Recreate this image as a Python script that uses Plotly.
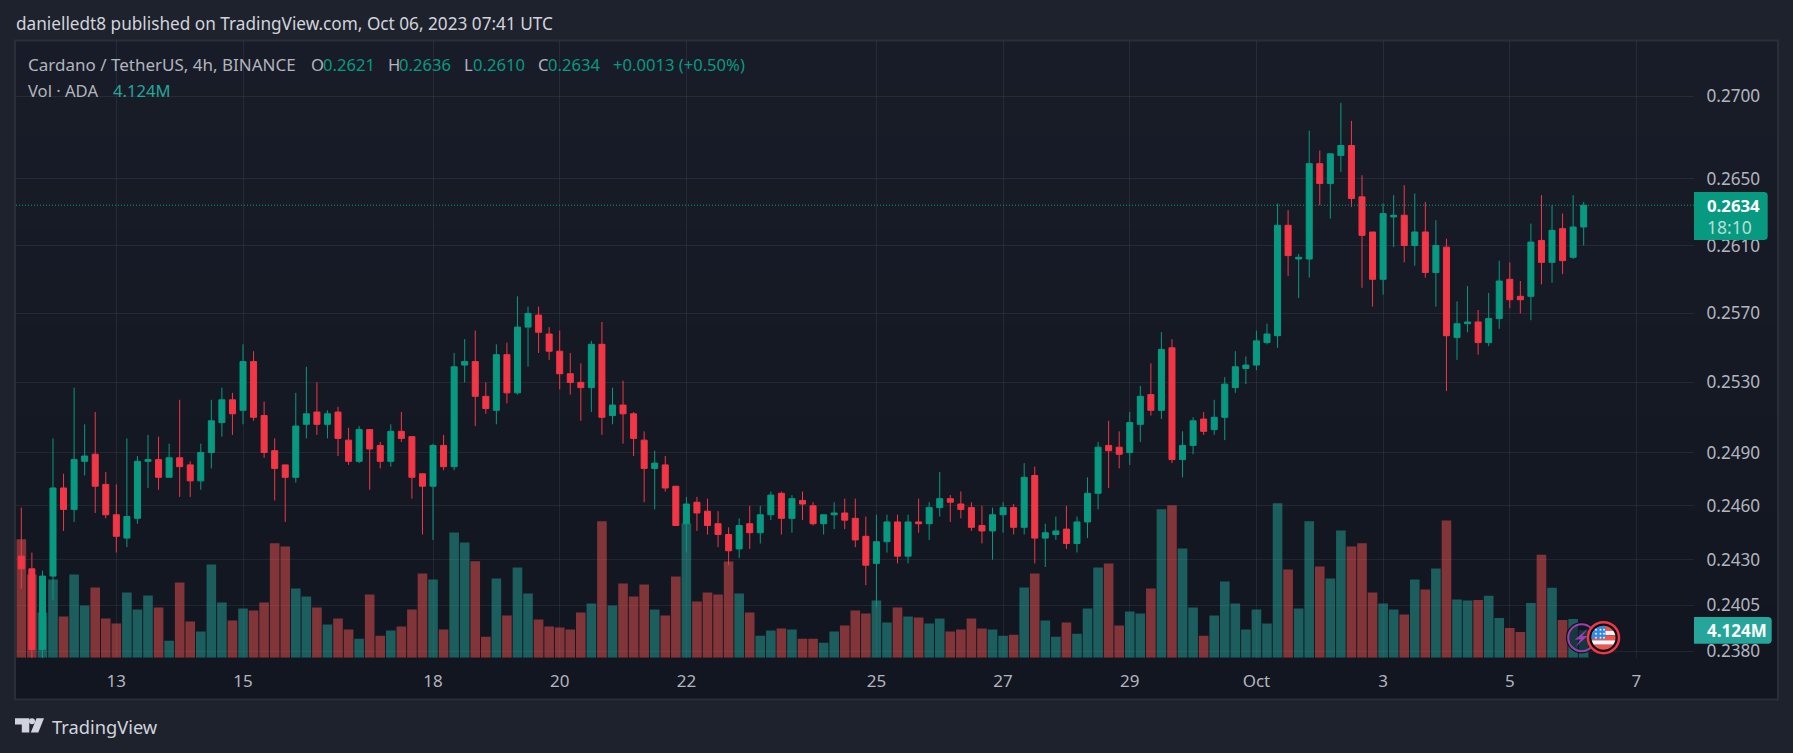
import math
import pandas as pd
import plotly.graph_objects as go

W, H = 1793, 753
FONT = "Noto Sans"

directions = ("RRGGRGGRRR" "GGGRGRRGGG" "RGRRRRGGRG" "RRGRRGRRRG" "RGGRRGRGGR"
              "RRRRGRGRRR" "GRRGRRRRGR" "GGRGRRGGRR" "RGGRGRGGRR" "RRGGRGRGGR"
              "GGGRRGGRGR" "GGRGGGGGGG" "RGGRGGRRRG" "GRGRGRGGRG" "GRRGRGRGG")

highs = [.2459,.2434,.2424,.2498,.2478,.2527,.2506,.2513,.2479,.2472,
         .2498,.2488,.2500,.2499,.2495,.2520,.2485,.2495,.2520,.2527,
         .2524,.2552,.2548,.2519,.2498,.2483,.2524,.2539,.2530,.2514,
         .2516,.2504,.2505,.2503,.2496,.2506,.2513,.2499,.2478,.2495,
         .2500,.2547,.2555,.2560,.2530,.2552,.2553,.2580,.2574,.2574,
         .2562,.2560,.2547,.2541,.2554,.2565,.2527,.2531,.2513,.2502,
         .2491,.2488,.2471,.2465,.2465,.2464,.2457,.2448,.2453,.2460,
         .2460,.2468,.2468,.2466,.2468,.2462,.2455,.2462,.2464,.2464,
         .2454,.2455,.2455,.2455,.2455,.2464,.2462,.2479,.2466,.2468,
         .2462,.2460,.2459,.2462,.2461,.2484,.2482,.2450,.2454,.2460,
         .2454,.2476,.2496,.2508,.2502,.2513,.2528,.2541,.2559,.2555,
         .2502,.2510,.2513,.2520,.2533,.2548,.2545,.2560,.2564,.2635,
         .2631,.2605,.2679,.2667,.2665,.2696,.2685,.2652,.2618,.2635,
         .2640,.2646,.2641,.2636,.2625,.2614,.2577,.2586,.2572,.2582,
         .2601,.2600,.2589,.2623,.2640,.2634,.2629,.2640,.2636]

body_tops = [.2432,.2425,.2421,.2470,.2470,.2486,.2488,.2489,.2472,.2455,
             .2454,.2485,.2486,.2486,.2487,.2487,.2483,.2490,.2508,.2520,
             .2520,.2542,.2542,.2511,.2491,.2483,.2505,.2512,.2513,.2512,
             .2513,.2497,.2503,.2503,.2494,.2502,.2502,.2499,.2478,.2494,
             .2494,.2539,.2542,.2542,.2522,.2546,.2546,.2562,.2570,.2569,
             .2558,.2548,.2535,.2530,.2552,.2552,.2517,.2517,.2512,.2497,
             .2484,.2483,.2471,.2461,.2462,.2457,.2450,.2444,.2449,.2450,
             .2455,.2466,.2467,.2464,.2463,.2460,.2455,.2456,.2456,.2453,
             .2443,.2440,.2451,.2451,.2451,.2451,.2459,.2464,.2464,.2461,
             .2459,.2449,.2455,.2459,.2459,.2476,.2477,.2445,.2446,.2447,
             .2451,.2467,.2493,.2494,.2493,.2507,.2522,.2523,.2549,.2550,
             .2494,.2508,.2509,.2510,.2529,.2539,.2540,.2554,.2558,.2622,
             .2622,.2603,.2659,.2659,.2665,.2670,.2670,.2639,.2618,.2629,
             .2628,.2628,.2618,.2618,.2610,.2609,.2564,.2565,.2565,.2567,
             .2589,.2590,.2580,.2612,.2613,.2619,.2620,.2621,.2634]

body_bottoms = [.2425,.2381,.2381,.2421,.2458,.2458,.2485,.2471,.2455,.2443,
                .2442,.2453,.2485,.2476,.2476,.2482,.2474,.2474,.2490,.2507,
                .2512,.2514,.2510,.2490,.2481,.2476,.2476,.2506,.2506,.2506,
                .2498,.2485,.2485,.2492,.2485,.2485,.2498,.2476,.2471,.2471,
                .2482,.2482,.2540,.2522,.2515,.2514,.2524,.2524,.2562,.2559,
                .2548,.2535,.2530,.2527,.2527,.2510,.2511,.2512,.2498,.2481,
                .2481,.2470,.2449,.2450,.2456,.2449,.2444,.2435,.2436,.2445,
                .2445,.2455,.2453,.2453,.2461,.2450,.2450,.2455,.2452,.2441,
                .2427,.2428,.2440,.2432,.2432,.2450,.2450,.2459,.2462,.2458,
                .2448,.2446,.2446,.2455,.2448,.2448,.2442,.2442,.2444,.2439,
                .2439,.2451,.2467,.2491,.2489,.2490,.2506,.2514,.2514,.2486,
                .2486,.2494,.2502,.2503,.2510,.2527,.2538,.2540,.2553,.2557,
                .2604,.2602,.2602,.2647,.2647,.2664,.2638,.2616,.2590,.2590,
                .2627,.2610,.2610,.2594,.2594,.2557,.2556,.2564,.2553,.2553,
                .2567,.2578,.2578,.2580,.2600,.2600,.2601,.2603,.2621]

lows = [.2414,.2376,.2376,.2408,.2446,.2451,.2477,.2456,.2453,.2434,
        .2437,.2450,.2470,.2469,.2476,.2465,.2465,.2469,.2481,.2499,
        .2500,.2506,.2508,.2487,.2463,.2451,.2473,.2498,.2500,.2498,
        .2488,.2483,.2484,.2469,.2481,.2482,.2496,.2464,.2444,.2441,
        .2480,.2480,.2530,.2505,.2512,.2506,.2518,.2523,.2539,.2547,
        .2543,.2526,.2523,.2508,.2513,.2500,.2506,.2495,.2488,.2462,
        .2458,.2468,.2449,.2434,.2446,.2444,.2437,.2427,.2431,.2436,
        .2439,.2452,.2444,.2445,.2452,.2449,.2444,.2447,.2447,.2437,
        .2416,.2404,.2434,.2428,.2428,.2445,.2441,.2454,.2451,.2453,
        .2446,.2439,.2430,.2445,.2444,.2444,.2428,.2426,.2441,.2436,
        .2434,.2442,.2458,.2470,.2481,.2483,.2496,.2511,.2509,.2484,
        .2476,.2489,.2500,.2500,.2497,.2524,.2529,.2537,.2552,.2550,
        .2592,.2579,.2591,.2634,.2626,.2654,.2633,.2585,.2574,.2581,
        .2609,.2600,.2598,.2591,.2574,.2525,.2543,.2559,.2546,.2551,
        .2561,.2573,.2570,.2566,.2587,.2588,.2593,.2602,.2610]

volumes_m = [17.8,12.5,6.78,11.75,6.17,12.5,7.83,10.54,5.87,5.12,
             9.79,7.23,9.34,7.53,2.56,11.3,5.42,3.92,14.0,8.28,
             5.57,7.38,7.08,8.28,17.2,16.7,10.4,9.19,7.53,4.97,
             5.87,4.22,2.86,9.49,3.31,4.07,4.67,7.23,12.65,11.75,
             4.22,18.8,17.3,14.5,3.16,11.9,6.33,13.55,9.64,5.72,
             4.67,4.52,4.22,6.78,8.13,20.5,7.83,11.14,9.19,11.0,
             7.23,6.33,12.2,20.2,8.43,9.79,9.49,14.46,9.64,6.78,
             3.31,4.07,4.37,4.22,2.86,2.86,2.26,3.92,4.82,7.08,
             6.63,8.58,5.27,7.53,6.17,6.02,5.12,5.87,3.92,4.22,
             5.87,4.37,4.22,3.31,3.46,10.54,12.65,5.57,3.16,5.27,
             3.61,7.38,13.55,14.16,4.82,6.93,6.63,10.39,22.3,22.9,
             16.4,7.53,3.31,6.33,11.45,8.13,4.22,7.23,5.12,23.2,
             13.25,7.38,20.5,13.7,11.9,19.1,16.7,17.2,9.79,8.13,
             7.23,6.48,11.75,10.24,13.4,20.6,8.73,8.58,8.68,9.29,
             5.97,4.47,3.87,8.23,15.46,10.49,5.67,5.82,4.124]

price_ticks = [.2700, .2650, .2610, .2570, .2530, .2490, .2460, .2430, .2405, .2380]
price_tick_text = ["0.2700", "0.2650", "0.2610", "0.2570", "0.2530", "0.2490",
                   "0.2460", "0.2430", "0.2405", "0.2380"]
date_ticks = ["2023-09-13", "2023-09-15", "2023-09-18", "2023-09-20", "2023-09-22",
              "2023-09-25", "2023-09-27", "2023-09-29", "2023-10-01", "2023-10-03",
              "2023-10-05", "2023-10-07"]
date_tick_text = ["13", "15", "18", "20", "22", "25", "27", "29", "Oct", "3", "5", "7"]
last_price = 0.2634

UP, DOWN = "#089981", "#F23645"
VOL_UP, VOL_DOWN = "rgba(38,166,154,0.5)", "rgba(239,83,80,0.5)"
GRID = "rgba(240,243,250,0.07)"
AXIS_TEXT = "#B2B5BE"
PAPER = "#1E222D"
FRAME = "#2A2E39"

times = pd.date_range("2023-09-11 12:00", periods=len(highs), freq="4h")
opens = [b if d == "G" else t for d, t, b in zip(directions, body_tops, body_bottoms)]
closes = [t if d == "G" else b for d, t, b in zip(directions, body_tops, body_bottoms)]
x_range = ["2023-09-11 09:59", "2023-10-07 21:48"]

# pane geometry in page pixels
L, R, T, B = 16, 1694, 41, 657.7


def px(x):
    return x / W


def py(y):
    return 1 - y / H


def poly(points, fill, line=None, lw=0, layer="above"):
    d = "M" + " L".join(f"{px(a):.6f},{py(b):.6f}" for a, b in points) + " Z"
    return dict(type="path", xref="paper", yref="paper", path=d, fillcolor=fill,
                line=dict(color=line or "rgba(0,0,0,0)", width=lw), layer=layer)


def circle(cx, cy, r, fill, line=None, lw=0):
    return dict(type="circle", xref="paper", yref="paper", x0=px(cx - r), x1=px(cx + r),
                y0=py(cy + r), y1=py(cy - r), fillcolor=fill,
                line=dict(color=line or "rgba(0,0,0,0)", width=lw), layer="above")


def rect(x0, y0, x1, y1, fill, layer="below", line=None, lw=0):
    return dict(type="rect", xref="paper", yref="paper", x0=px(x0), x1=px(x1),
                y0=py(y1), y1=py(y0), fillcolor=fill,
                line=dict(color=line or "rgba(0,0,0,0)", width=lw), layer=layer)


def rounded_right(x0, y0, x1, y1, rad, fill):
    pts = [(x0, y0), (x1 - rad, y0), (x1 - rad * .3, y0 + rad * .3), (x1, y0 + rad),
           (x1, y1 - rad), (x1 - rad * .3, y1 - rad * .3), (x1 - rad, y1), (x0, y1)]
    return poly(pts, fill)


def band(cx, cy, r, y1, y2, xmax, fill):
    n = 10
    ys = [y1 + (y2 - y1) * i / n for i in range(n + 1)]
    right = [(min(math.sqrt(max(r * r - v * v, 0)), xmax), v) for v in ys]
    left = [(-math.sqrt(max(r * r - v * v, 0)), v) for v in reversed(ys)]
    return poly([(cx + a, cy + b) for a, b in right + left], fill)


shapes = []
# pane with a faint vertical shading
steps = 14
top_c, bot_c = (24, 28, 40), (18, 22, 32)
for i in range(steps):
    f = i / (steps - 1)
    c = tuple(round(a + (b - a) * f) for a, b in zip(top_c, bot_c))
    y0 = T + (699 - T) * i / steps
    shapes.append(rect(15, y0, 1778, 699, f"rgb{c}"))
shapes.append(rect(15, 40.5, 1778, 699.5, "rgba(0,0,0,0)", line=FRAME, lw=2))

# last-price and volume labels
shapes.append(rounded_right(1694, 192, 1767.7, 240, 3, UP))
shapes.append(rounded_right(1694, 617, 1771.7, 643.7, 3, "#26A69A"))

# event icons
cx, cy = 1581.7, 637.7
shapes.append(circle(cx, cy, 15, "rgba(0,0,0,0)", "#111", 1.5))
shapes.append(circle(cx, cy, 13.5, "rgba(19,23,34,0.55)", "#9C3FB5", 2))
shapes.append(poly([(cx + 6, cy - 9), (cx - 7, cy + 2), (cx - 1, cy + 1.5), (cx - 6, cy + 9),
                    (cx + 6, cy - 2), (cx + 0.5, cy - 1.5)], "#9C3FB5"))
cx, cy = 1603.5, 637.7
shapes.append(circle(cx, cy, 15.5, "#0B0D12", "#F23645", 2.5))
r = 12
shapes.append(band(cx, cy, r, -r, -7, r, "#F05350"))
shapes.append(band(cx, cy, r, -7, -2.5, r, "#F5F5F5"))
shapes.append(band(cx, cy, r, -2.5, 2.5, r, "#F05350"))
shapes.append(band(cx, cy, r, 2.5, 7, r, "#F5F5F5"))
shapes.append(band(cx, cy, r, 7, r, r, "#F05350"))
shapes.append(band(cx, cy, r, -r, 1, 2, "#2F8BE6"))
for dy in (-8, -4, 0):
    for dx in (-7.5, -3, 0.5):
        shapes.append(circle(cx + dx, cy + dy, 0.9, "#FFFFFF"))

# TradingView mark
shapes.append(poly([(15, 718.3), (29.3, 718.3), (29.3, 732.5), (21.8, 732.5), (21.8, 724.5), (15, 724.5)],
                   "#D1D4DC"))
shapes.append(circle(32, 721.3, 3, "#D1D4DC"))
shapes.append(poly([(36.5, 718.3), (44, 718.3), (38.3, 732.5), (30.8, 732.5)], "#D1D4DC"))


def txt(x, y, s, color, size, bold=False):
    return dict(x=px(x), y=py(y), xref="paper", yref="paper", text=f"<b>{s}</b>" if bold else s,
                showarrow=False, xanchor="left", yanchor="middle", align="left", borderpad=0,
                font=dict(family=FONT, color=color, size=size))


LEG = 16.6
annotations = [
    txt(15, 24, "danielledt8 published on TradingView.com, Oct 06, 2023 07:41 UTC", "#D1D4DC", 17.2),
    txt(26.5, 64, "Cardano / TetherUS, 4h, BINANCE", "#B2B5BE", 17),
    txt(309.5, 64, "O", "#B2B5BE", LEG), txt(321.5, 64, "0.2621", UP, LEG),
    txt(386.5, 64, "H", "#B2B5BE", LEG), txt(398, 64, "0.2636", UP, LEG),
    txt(463, 64, "L", "#B2B5BE", LEG), txt(472, 64, "0.2610", UP, LEG),
    txt(536.5, 64, "C", "#B2B5BE", LEG), txt(547, 64, "0.2634", UP, LEG),
    txt(612, 64, "+0.0013 (+0.50%)", UP, LEG),
    txt(26.5, 90, "Vol · ADA", "#B2B5BE", LEG),
    txt(112, 90, "4.124M", "#26A69A", LEG),
    txt(1706, 206, "0.2634", "#FFFFFF", 16.8, True),
    txt(1706, 226.7, "18:10", "rgba(255,255,255,0.7)", 17.5),
    txt(1706, 630.5, "4.124M", "#FFFFFF", 17, True),
    txt(50.5, 726.5, "TradingView", "#D1D4DC", 18.3),
]

fig = go.Figure()
fig.add_trace(go.Bar(x=times, y=volumes_m, yaxis="y",
                     marker=dict(color=[VOL_UP if d == "G" else VOL_DOWN for d in directions],
                                 line=dict(width=0)),
                     showlegend=False))
fig.add_trace(go.Scatter(x=x_range, y=[last_price, last_price], yaxis="y2", mode="lines",
                         line=dict(color=UP, width=1, dash="1px,2px"), showlegend=False))
fig.add_trace(go.Candlestick(x=times, open=opens, high=highs, low=lows, close=closes, yaxis="y2",
                             increasing=dict(line=dict(color=UP, width=1), fillcolor=UP),
                             decreasing=dict(line=dict(color=DOWN, width=1), fillcolor=DOWN),
                             whiskerwidth=0, showlegend=False))

fig.update_layout(
    width=W, height=H, autosize=False, margin=dict(l=0, r=0, t=0, b=0, autoexpand=False),
    paper_bgcolor=PAPER, plot_bgcolor="rgba(0,0,0,0)",
    bargap=0.09, boxgap=0.43, boxgroupgap=0, showlegend=False, shapes=shapes, annotations=annotations,
    xaxis=dict(type="date", domain=[px(L), px(R)], range=x_range, rangeslider=dict(visible=False),
               tickmode="array", tickvals=date_ticks, ticktext=date_tick_text, showgrid=True, gridcolor=GRID,
               gridwidth=1, zeroline=False, showline=False, ticks="outside", ticklen=8, automargin=False,
               tickcolor="rgba(0,0,0,0)", tickfont=dict(family=FONT, color=AXIS_TEXT, size=17), anchor="y"),
    yaxis=dict(domain=[py(B), py(T)], range=[0, 92.6], showgrid=False, zeroline=False, visible=False,
               automargin=False),
    yaxis2=dict(type="log", domain=[py(B), py(T)], overlaying="y", side="right", anchor="x",
                range=[math.log10(0.23765), math.log10(0.27342)], automargin=False,
                tickmode="array", tickvals=price_ticks, ticktext=price_tick_text, showgrid=True,
                gridcolor=GRID, gridwidth=1, zeroline=False, showline=False, ticks="outside", ticklen=8,
                tickcolor="rgba(0,0,0,0)", tickfont=dict(family=FONT, color=AXIS_TEXT, size=17.2)),
)

fig.write_html("out.html", config=dict(displayModeBar=False),
               post_script="document.body.style.margin='0';document.body.style.overflow='hidden';")
